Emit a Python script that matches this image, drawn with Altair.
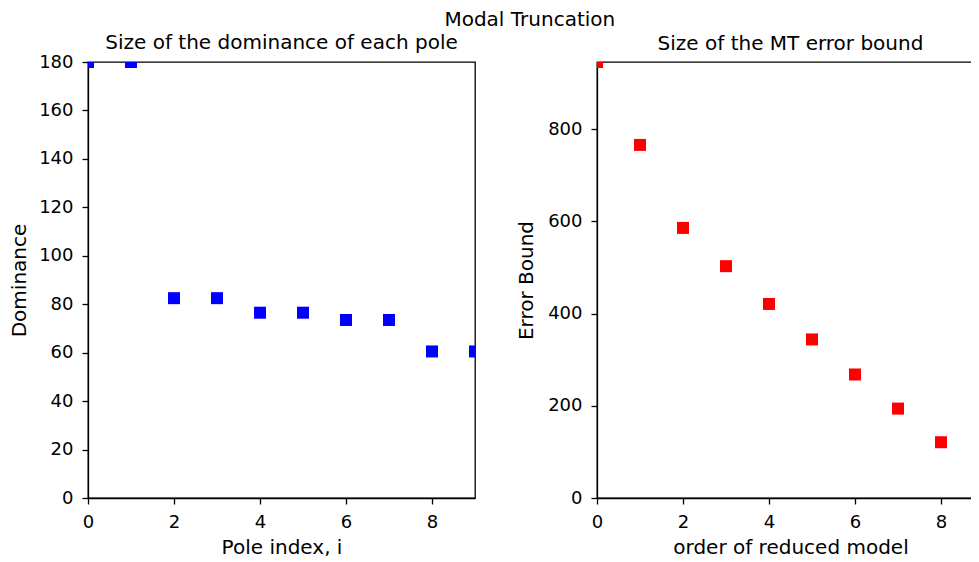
import altair as alt
import pandas as pd

# Data
pole_index = [0, 1, 2, 3, 4, 5, 6, 7, 8, 9]
dominance = [180, 180, 82.5, 82.5, 76.5, 76.5, 73.5, 73.5, 60.5, 60.5]
reduced_order = [0, 1, 2, 3, 4, 5, 6, 7, 8, 9]
error_bound = [946, 766, 586, 503, 421, 344, 268, 194, 121, 60]

left_xticks = [0, 2, 4, 6, 8]
left_yticks = [0, 20, 40, 60, 80, 100, 120, 140, 160, 180]
right_xticks = [0, 2, 4, 6, 8]
right_yticks = [0, 200, 400, 600, 800]

df_left = pd.DataFrame({"i": pole_index, "d": dominance})
df_right = pd.DataFrame({"k": reduced_order, "e": error_bound})

FONT = "DejaVu Sans"
FS_TICK = 18
FS_TEXT = 20

def ax(title, values, tpad):
    return alt.Axis(
        title=title, values=values, grid=False, tickSize=6, tickWidth=1.3,
        domainWidth=1.3, domainColor="black", tickColor="black",
        labelColor="black", titleColor="black", labelFont=FONT, titleFont=FONT,
        labelFontSize=FS_TICK, titleFontSize=FS_TEXT, titleFontWeight="normal",
        labelPadding=9, titlePadding=tpad, labelFlush=False, labelOverlap=False,
    )

def sub_title(text, off):
    return alt.TitleParams(text, font=FONT, fontSize=FS_TEXT, fontWeight="normal",
                           color="black", anchor="middle", offset=off)

left = alt.Chart(df_left, title=sub_title("Size of the dominance of each pole", 0)).mark_square(
    size=144, color="#0000ff", opacity=1, clip=True
).encode(
    x=alt.X("i:Q", scale=alt.Scale(domain=[0, 9], nice=False, zero=False),
            axis=ax("Pole index, i", left_xticks, 6)),
    y=alt.Y("d:Q", scale=alt.Scale(domain=[0, 180], nice=False),
            axis=ax("Dominance", left_yticks, 9)),
).properties(width=387, height=436)

right = alt.Chart(df_right, title=sub_title("Size of the MT error bound", 8)).mark_square(
    size=144, color="#ff0000", opacity=1, clip=True
).encode(
    x=alt.X("k:Q", scale=alt.Scale(domain=[0, 9], nice=False, zero=False),
            axis=ax("order of reduced model", right_xticks, 6)),
    y=alt.Y("e:Q", scale=alt.Scale(domain=[0, 946], nice=False),
            axis=ax("Error Bound", right_yticks, 11)),
).properties(width=387, height=436)

chart = alt.hconcat(
    left, right, spacing=122, bounds="flush",
    title=alt.TitleParams("Modal Truncation", font=FONT, fontSize=FS_TEXT,
                          fontWeight="normal", color="black", anchor="middle",
                          offset=2, dx=33),
).properties(
    autosize=alt.AutoSizeParams(type="none"),
    padding={"left": 80, "top": 54, "right": 883, "bottom": 492},
    background="white",
).configure_view(stroke="black", strokeWidth=1.3)

chart.save("out.html", embed_options={"renderer": "svg", "actions": False})
